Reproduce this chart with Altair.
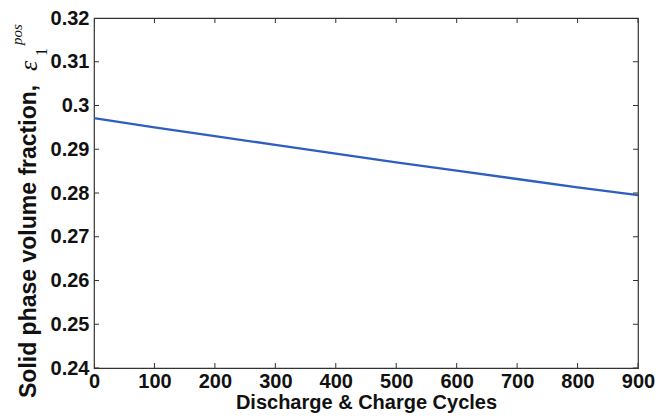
import altair as alt
import pandas as pd

# data
cycles = [0, 100, 200, 300, 400, 500, 600, 700, 800, 900]
eps_pos = [0.2971, 0.2950, 0.2930, 0.2910, 0.2890, 0.2870, 0.2851, 0.2832, 0.2813, 0.2795]

x_ticks = [0, 100, 200, 300, 400, 500, 600, 700, 800, 900]
y_ticks = [0.24, 0.25, 0.26, 0.27, 0.28, 0.29, 0.30, 0.31, 0.32]

W, H = 544, 350
FRAME = "#333333"
TXT = "#111111"

df = pd.DataFrame({"cycle": cycles, "eps": eps_pos})
dfx = pd.DataFrame({"cycle": x_ticks})
dfy = pd.DataFrame({"eps": y_ticks})

xscale = alt.Scale(domain=[0, 900], nice=False, zero=False)
yscale = alt.Scale(domain=[0.24, 0.32], nice=False, zero=False)

label_expr = "abs(datum.value - 0.3) < 1e-9 ? '0.3' : format(datum.value, '.2f')"

xaxis = alt.Axis(values=x_ticks, ticks=False, domain=False, grid=False,
                 labelFontSize=20, labelFont="Liberation Sans", labelFontWeight="bold",
                 labelColor=TXT, labelPadding=3, labelFlush=False,
                 title="Discharge & Charge Cycles", titleFontSize=20,
                 titleFont="Liberation Sans", titleFontWeight="bold",
                 titleColor=TXT, titlePadding=1)
yaxis = alt.Axis(values=y_ticks, ticks=False, domain=False, grid=False,
                 labelExpr=label_expr,
                 labelFontSize=20, labelFont="Liberation Sans", labelFontWeight="bold",
                 labelColor=TXT, labelPadding=5, labelFlush=False,
                 title=None)

X = alt.X("cycle:Q", scale=xscale, axis=xaxis)
Y = alt.Y("eps:Q", scale=yscale, axis=yaxis)

line = alt.Chart(df).mark_line(color="#2d5ec0", strokeWidth=2.3).encode(x=X, y=Y)

tick_kw = dict(size=10, thickness=1, color=FRAME, clip=True, opacity=1)
xt_bottom = alt.Chart(dfx).mark_tick(orient="vertical", **tick_kw).encode(x=X, y=alt.value(H))
xt_top = alt.Chart(dfx).mark_tick(orient="vertical", **tick_kw).encode(x=X, y=alt.value(0))
yt_left = alt.Chart(dfy).mark_tick(orient="horizontal", **tick_kw).encode(y=Y, x=alt.value(0))
yt_right = alt.Chart(dfy).mark_tick(orient="horizontal", **tick_kw).encode(y=Y, x=alt.value(W))

ytitle_main = alt.Chart(pd.DataFrame({"s": ["Solid phase volume fraction,"]})).mark_text(
    angle=270, align="left", baseline="alphabetic", font="Liberation Sans", fontWeight="bold",
    fontSize=23, color=TXT).encode(text="s:N", x=alt.value(-58), y=alt.value(380))
ytitle_eps = alt.Chart(pd.DataFrame({"s": ["ε"]})).mark_text(
    angle=270, align="left", baseline="alphabetic", font="Liberation Serif", fontStyle="italic",
    fontSize=26, color=TXT).encode(text="s:N", x=alt.value(-57), y=alt.value(53))
ytitle_sup = alt.Chart(pd.DataFrame({"s": ["pos"]})).mark_text(
    angle=270, align="left", baseline="alphabetic", font="Liberation Serif", fontStyle="italic",
    fontSize=15, color=TXT).encode(text="s:N", x=alt.value(-72), y=alt.value(27))
ytitle_sub = alt.Chart(pd.DataFrame({"s": ["1"]})).mark_text(
    angle=270, align="left", baseline="alphabetic", font="Liberation Serif",
    fontSize=16, color=TXT).encode(text="s:N", x=alt.value(-47), y=alt.value(38))

chart = alt.layer(line, xt_bottom, xt_top, yt_left, yt_right,
                  ytitle_main, ytitle_eps, ytitle_sup, ytitle_sub).properties(
    width=W, height=H,
    autosize=alt.AutoSizeParams(type="none"),
    padding={"left": 94, "top": 18, "right": 18, "bottom": 48},
    background="white",
).configure_view(stroke=FRAME, strokeWidth=1.2)

chart.save("out.html", embed_options={"renderer": "svg", "actions": False})
